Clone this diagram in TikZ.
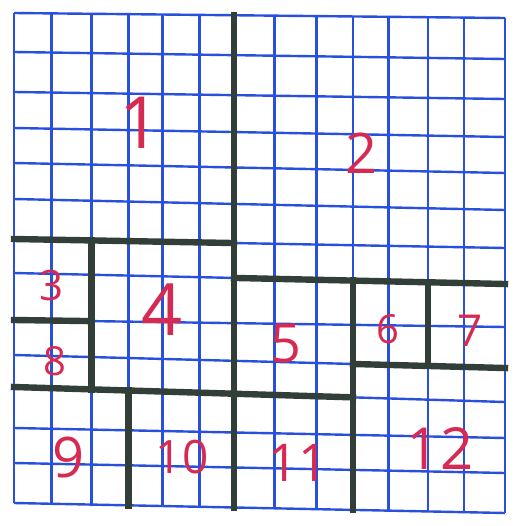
\documentclass[tikz,border=0pt]{standalone}
\usepackage{fontspec}
\setmainfont{Open Sans}
\definecolor{gridblue}{RGB}{40,80,220}
\definecolor{penline}{RGB}{50,62,56}
\definecolor{inkred}{RGB}{214,42,82}
\def\XA{{14,51.5,91.5,128.5,162.5,199.5,234,274.5,316.5,353,388.5,428,464,505}}
\def\YL{{13,52,92,128,163,199,239,273,320,355,387,428,463,503}}
\def\YR{{18,59,99,137,173,210,248,284,327,368,402,438,473,513}}
\newcommand{\gpt}[3]{%
  \pgfmathsetmacro\gx{\XA[#2]}%
  \pgfmathsetmacro\gy{\YL[#3]+(\YR[#3]-\YL[#3])*(\gx-14)/491}%
  \coordinate (#1) at (\gx,\gy);}
\newcommand{\thickseg}[4]{% j1 k1 j2 k2
  \gpt{ta}{#1}{#2}\gpt{tb}{#3}{#4}%
  \draw[thickline] (ta) -- (tb);}
\begin{document}
\begin{tikzpicture}[x=0.5pt,y=-0.5pt,
  gridline/.style={draw=gridblue,line width=1.2pt},
  thickline/.style={draw=penline,line width=3.2pt,line cap=rect},
  numlabel/.style={text=inkred,inner sep=0pt}]
\useasboundingbox[fill=white] (0,0) rectangle (515,526);
% blue squared paper
\foreach \i in {0,...,13} {
  \gpt{va}{\i}{0}\gpt{vb}{\i}{13}
  \draw[gridline] (va) -- (vb);
  \gpt{ha}{0}{\i}\gpt{hb}{13}{\i}
  \draw[gridline] (ha) -- (hb);
}
% thick partition lines
\thickseg{6}{0}{6}{13}
\thickseg{0}{6}{6}{6}
\thickseg{2}{6}{2}{10}
\thickseg{0}{8}{2}{8}
\thickseg{0}{10}{6}{10}
\thickseg{3}{10}{3}{13}
\thickseg{6}{7}{13}{7}
\thickseg{6}{10}{9}{10}
\thickseg{9}{7}{9}{13}
\thickseg{11}{7}{11}{9}
\thickseg{9}{9}{13}{9}
% labels (pixel coordinates)
\node[numlabel,font=\fontsize{36}{36}\selectfont] (n1)  at (140,123) {1};
\node[numlabel,font=\fontsize{28}{28}\selectfont] (n2)  at (362,153) {2};
\node[numlabel,font=\fontsize{21}{21}\selectfont] (n3)  at (52,285)  {3};
\node[numlabel,font=\fontsize{36}{36}\selectfont] (n4)  at (162,310) {4};
\node[numlabel,font=\fontsize{27}{27}\selectfont] (n5)  at (286,343) {5};
\node[numlabel,font=\fontsize{20}{20}\selectfont] (n6)  at (388,329) {6};
\node[numlabel,font=\fontsize{22}{22}\selectfont] (n7)  at (470,331) {7};
\node[numlabel,font=\fontsize{20}{20}\selectfont] (n8)  at (55,361)  {8};
\node[numlabel,font=\fontsize{28}{28}\selectfont] (n9)  at (69,457)  {9};
\node[numlabel,font=\fontsize{23}{23}\selectfont] (n10) at (182,457) {10};
\node[numlabel,font=\fontsize{26}{26}\selectfont] (n11) at (298,463) {11};
\node[numlabel,font=\fontsize{29}{29}\selectfont] (n12) at (440,448) {12};
\end{tikzpicture}
\end{document}
